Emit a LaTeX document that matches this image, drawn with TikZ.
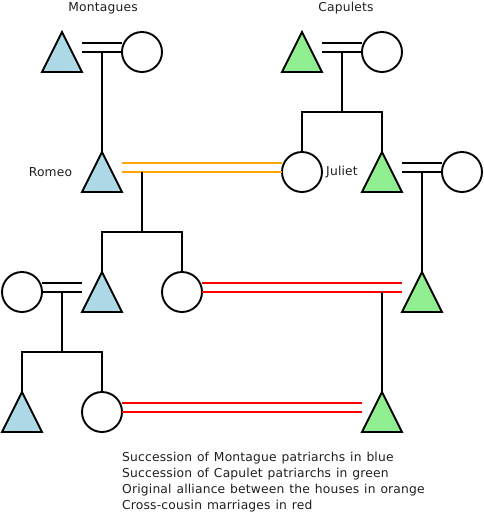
\documentclass[tikz,border=0pt]{standalone}
\usepackage{fontspec}
\setmainfont{DejaVu Sans}[WordSpace=1.2, LetterSpace=1.5]
\usetikzlibrary{calc}
\definecolor{mblue}{HTML}{ADD8E6}
\definecolor{cgreen}{HTML}{90EE90}
\definecolor{alorange}{HTML}{FFA500}
\begin{document}
\begin{tikzpicture}[x=1pt,y=-1pt,
  tribox/.style={rectangle, minimum width=40pt, minimum height=40pt, inner sep=0pt, outer sep=0pt},
  shapeline/.style={line width=1.9pt, line join=miter, draw=black},
  circbox/.style={shape=circle, draw=black, line width=1.9pt, minimum width=40pt, minimum height=40pt, inner sep=0pt, outer sep=0pt},
  kin/.style={line width=1.9pt, draw=black},
  wed/.style={line width=1.9pt},
  lbl/.style={font=\fontsize{12.3}{14}\selectfont, text=black!88, inner sep=0pt},
  ]
\useasboundingbox (0,0) rectangle (484,515);
% titles
\node[lbl] (tm) at (103,8) {Montagues};
\node[lbl] (tc) at (346,8) {Capulets};
% circles (females)
\node[circbox] (wifeA) at (142,52) {};
\node[circbox] (wifeB) at (382,52) {};
\node[circbox] (juliet) at (302,172) {};
\node[circbox] (wifeC) at (462,172) {};
\node[circbox] (wifeD) at (22,292) {};
\node[circbox] (daughterE) at (182,292) {};
\node[circbox] (daughterF) at (102,412) {};
% triangle boxes (males)
\node[tribox] (mOne) at (62,52) {};
\node[tribox] (cOne) at (302,52) {};
\node[tribox] (romeo) at (102,172) {};
\node[tribox] (cTwo) at (382,172) {};
\node[tribox] (mThree) at (102,292) {};
\node[tribox] (cThree) at (422,292) {};
\node[tribox] (mFour) at (22,412) {};
\node[tribox] (cFour) at (382,412) {};
\filldraw[fill=mblue, shapeline] (mOne.north) -- (mOne.south east) -- (mOne.south west) -- cycle;
\filldraw[fill=mblue, shapeline] (romeo.north) -- (romeo.south east) -- (romeo.south west) -- cycle;
\filldraw[fill=mblue, shapeline] (mThree.north) -- (mThree.south east) -- (mThree.south west) -- cycle;
\filldraw[fill=mblue, shapeline] (mFour.north) -- (mFour.south east) -- (mFour.south west) -- cycle;
\filldraw[fill=cgreen, shapeline] (cOne.north) -- (cOne.south east) -- (cOne.south west) -- cycle;
\filldraw[fill=cgreen, shapeline] (cTwo.north) -- (cTwo.south east) -- (cTwo.south west) -- cycle;
\filldraw[fill=cgreen, shapeline] (cThree.north) -- (cThree.south east) -- (cThree.south west) -- cycle;
\filldraw[fill=cgreen, shapeline] (cFour.north) -- (cFour.south east) -- (cFour.south west) -- cycle;
% labels
\node[lbl] (lr) at (50.5,172) {Romeo};
\node[lbl] (lj) at (342,172) {Juliet};
% marriages
\draw[wed] (mOne.east) -- (wifeA.west);
\draw[wed] ($(mOne.east)+(0,-9)$) -- ($(wifeA.west)+(0,-9)$);
\draw[wed] (cOne.east) -- (wifeB.west);
\draw[wed] ($(cOne.east)+(0,-9)$) -- ($(wifeB.west)+(0,-9)$);
\draw[wed, alorange] (romeo.east) -- (juliet.west);
\draw[wed, alorange] ($(romeo.east)+(0,-9)$) -- ($(juliet.west)+(0,-9)$);
\draw[wed] (cTwo.east) -- (wifeC.west);
\draw[wed] ($(cTwo.east)+(0,-9)$) -- ($(wifeC.west)+(0,-9)$);
\draw[wed] (wifeD.east) -- (mThree.west);
\draw[wed] ($(wifeD.east)+(0,-9)$) -- ($(mThree.west)+(0,-9)$);
\draw[wed, red] (daughterE.east) -- (cThree.west);
\draw[wed, red] ($(daughterE.east)+(0,-9)$) -- ($(cThree.west)+(0,-9)$);
\draw[wed, red] (daughterF.east) -- (cFour.west);
\draw[wed, red] ($(daughterF.east)+(0,-9)$) -- ($(cFour.west)+(0,-9)$);
% descent
\coordinate (dA) at (102,52);
\draw[kin] (dA) -- (romeo.north);
\coordinate (dB) at (342,52);
\coordinate (bB) at (342,112);
\draw[kin] (dB) -- (bB);
\draw[kin] (juliet.north) |- (bB) -| (cTwo.north);
\coordinate (dC) at (142,172);
\coordinate (bC) at (142,232);
\draw[kin] (dC) -- (bC);
\draw[kin] (mThree.north) |- (bC) -| (daughterE.north);
\coordinate (dD) at (422,172);
\draw[kin] (dD) -- (cThree.north);
\coordinate (dE) at (62,292);
\coordinate (bE) at (62,352);
\draw[kin] (dE) -- (bE);
\draw[kin] (mFour.north) |- (bE) -| (daughterF.north);
\coordinate (dF) at (382,292);
\draw[kin] (dF) -- (cFour.north);
% legend
\node[lbl, anchor=west] (lgA) at (122,458) {Succession of Montague patriarchs in blue};
\node[lbl, anchor=west] (lgB) at (122,474) {Succession of Capulet patriarchs in green};
\node[lbl, anchor=west] (lgC) at (122,490) {Original alliance between the houses in orange};
\node[lbl, anchor=west] (lgD) at (122,506) {Cross-cousin marriages in red};
\end{tikzpicture}
\end{document}
